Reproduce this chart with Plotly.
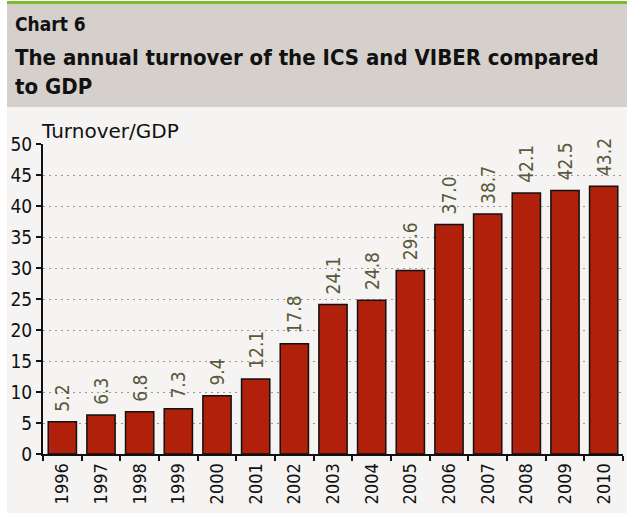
import plotly.graph_objects as go

years = ["1996", "1997", "1998", "1999", "2000", "2001", "2002", "2003",
         "2004", "2005", "2006", "2007", "2008", "2009", "2010"]
turnover_gdp = [5.2, 6.3, 6.8, 7.3, 9.4, 12.1, 17.8, 24.1, 24.8, 29.6,
                37.0, 38.7, 42.1, 42.5, 43.2]
y_ticks = [0, 5, 10, 15, 20, 25, 30, 35, 40, 45, 50]

chart_label = "Chart 6"
title_text = "The annual turnover of the ICS and VIBER compared<br>to GDP"
axis_title = "Turnover/GDP"

W, H = 627, 513
L, R, T, B = 43, 4, 144, 59
PW = W - L - R
PH = H - T - B
FONT = "DejaVu Sans Condensed, DejaVu Sans, sans-serif"
FONT_REG = "DejaVu Sans, sans-serif"


def px_x(px):
    return (px - L) / PW


def px_y(py):
    return (H - B - py) / PH


fig = go.Figure()
fig.add_trace(go.Bar(
    x=years,
    y=turnover_gdp,
    marker=dict(color="#b0200a", line=dict(color="#111111", width=1.5)),
    texttemplate="\u00a0\u200a%{y:.1f}",
    textposition="outside",
    textangle=-90,
    constraintext="none",
    textfont=dict(family=FONT, size=19, color="#5a593b"),
    cliponaxis=False,
    hoverinfo="x+y",
))

shapes = [
    dict(type="rect", xref="paper", yref="paper", layer="below",
         x0=px_x(7), x1=px_x(W), y0=px_y(107), y1=px_y(H),
         fillcolor="#f5f4f2", line=dict(width=0)),
    dict(type="rect", xref="paper", yref="paper", layer="below",
         x0=px_x(7), x1=px_x(W), y0=px_y(4), y1=px_y(107),
         fillcolor="#d5d0cb", line=dict(width=0)),
    dict(type="rect", xref="paper", yref="paper", layer="below",
         x0=px_x(7), x1=px_x(W), y0=px_y(1), y1=px_y(4),
         fillcolor="#80bc2a", line=dict(width=0)),
]

annotations = [
    dict(text="<b>" + chart_label + "</b>", xref="paper", yref="paper",
         x=px_x(13), y=px_y(24), xanchor="left", yanchor="middle",
         showarrow=False, font=dict(family=FONT, size=19, color="#111111")),
    dict(text="<b>" + title_text + "</b>", xref="paper", yref="paper",
         x=px_x(13), y=px_y(72), xanchor="left", yanchor="middle",
         showarrow=False, align="left",
         font=dict(family=FONT, size=22, color="#111111")),
    dict(text=axis_title, xref="paper", yref="paper",
         x=px_x(39), y=px_y(131), xanchor="left", yanchor="middle",
         showarrow=False, font=dict(family=FONT_REG, size=20, color="#111111")),
]

fig.update_layout(
    width=W, height=H,
    margin=dict(l=L, r=R, t=T, b=B, pad=0, autoexpand=False),
    paper_bgcolor="white",
    plot_bgcolor="rgba(0,0,0,0)",
    showlegend=False,
    bargap=0.27,
    shapes=shapes,
    annotations=annotations,
    font=dict(family=FONT, size=18, color="#111111"),
    xaxis=dict(
        type="category",
        tickangle=-90,
        tickson="boundaries",
        ticks="outside",
        ticklen=5,
        tickwidth=2,
        tickcolor="#111111",
        showline=True,
        linecolor="#111111",
        linewidth=2,
        showgrid=False,
        automargin=False,
        tickfont=dict(family=FONT, size=18, color="#111111"),
        fixedrange=True,
    ),
    yaxis=dict(
        range=[0, 50],
        tickvals=y_ticks,
        ticks="outside",
        ticklen=5,
        tickwidth=2,
        tickcolor="#111111",
        showline=True,
        linecolor="#111111",
        linewidth=2,
        showgrid=True,
        gridcolor="#9a9a9a",
        griddash="2px,4px",
        gridwidth=1,
        zeroline=False,
        automargin=False,
        tickfont=dict(family=FONT, size=19, color="#111111"),
        fixedrange=True,
    ),
)

fig.write_html("out.html", config={"displayModeBar": False},
               post_script="document.body.style.margin='0';")
